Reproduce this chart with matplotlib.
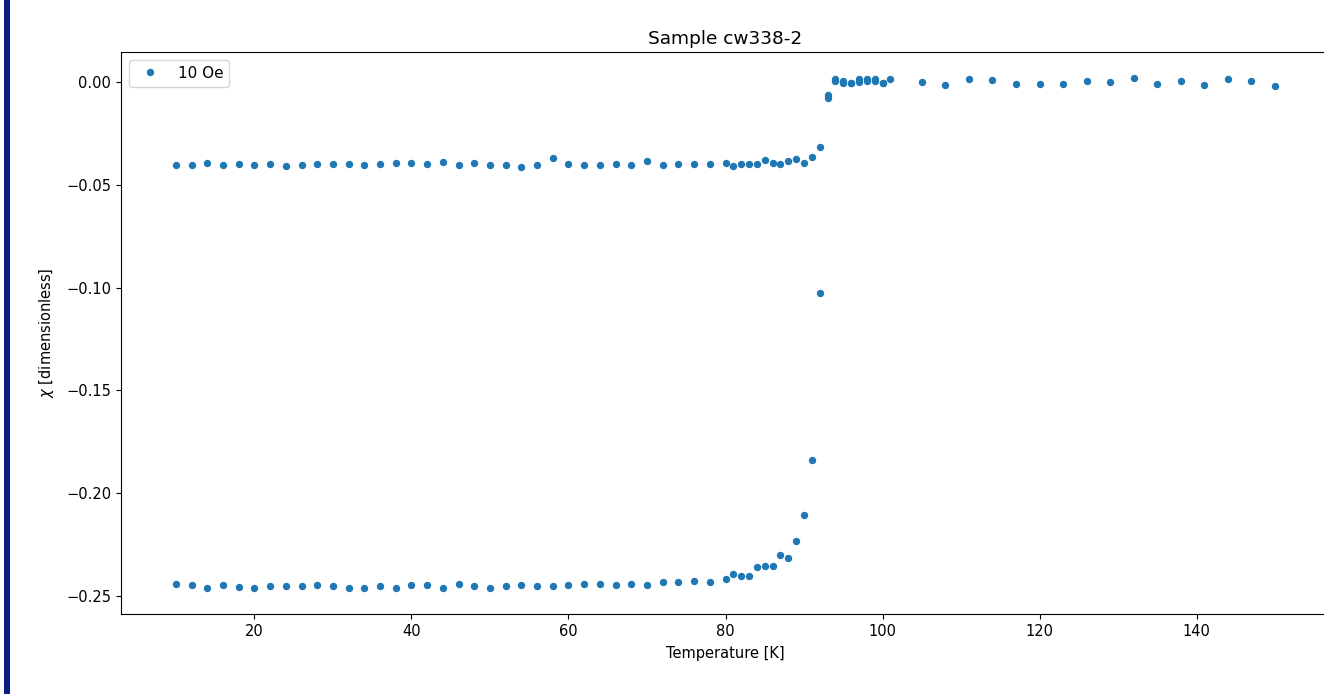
import matplotlib
matplotlib.use("Agg")
import matplotlib.pyplot as plt
from matplotlib.patches import Rectangle

# Field-cooled branch (upper)
T_fc = [10, 12, 14, 16, 18, 20, 22, 24, 26, 28, 30, 32, 34, 36, 38, 40, 42, 44,
        46, 48, 50, 52, 54, 56, 58, 60, 62, 64, 66, 68, 70, 72, 74, 76, 78, 80,
        81, 82, 83, 84, 85, 86, 87, 88, 89, 90, 91, 92, 93, 94, 95, 96, 97, 98,
        99, 100, 101, 105, 108, 111, 114, 117, 120, 123, 126, 129, 132, 135,
        138, 141, 144, 147, 150]
chi_fc = [-0.0404, -0.0404, -0.0394, -0.0404, -0.0399, -0.0404, -0.0399, -0.0409,
          -0.0404, -0.0399, -0.0399, -0.0399, -0.0404, -0.0399, -0.0394, -0.0394,
          -0.0399, -0.0389, -0.0404, -0.0394, -0.0404, -0.0404, -0.0414, -0.0404,
          -0.0370, -0.0399, -0.0404, -0.0404, -0.0398, -0.0404, -0.0386, -0.0404,
          -0.0398, -0.0398, -0.0398, -0.0393, -0.0410, -0.0399, -0.0398, -0.0398,
          -0.0381, -0.0393, -0.0398, -0.0386, -0.0373, -0.0393, -0.0364, -0.0315,
          -0.0063, 0.0013, 0.0006, -0.0006, 0.0015, 0.0015, 0.0015, -0.0006,
          0.0015, -0.0002, -0.0013, 0.0015, 0.0010, -0.0008, -0.0008, -0.0008,
          0.0003, -0.0002, 0.0021, -0.0008, 0.0003, -0.0013, 0.0015, 0.0003,
          -0.0018]

# Zero-field-cooled branch (lower)
T_zfc = [10, 12, 14, 16, 18, 20, 22, 24, 26, 28, 30, 32, 34, 36, 38, 40, 42, 44,
         46, 48, 50, 52, 54, 56, 58, 60, 62, 64, 66, 68, 70, 72, 74, 76, 78, 80,
         81, 82, 83, 84, 85, 86, 87, 88, 89, 90, 91, 92, 93, 94, 95, 96, 97, 98,
         99, 100]
chi_zfc = [-0.2441, -0.2447, -0.2463, -0.2445, -0.2457, -0.2463, -0.2452, -0.2452,
           -0.2452, -0.2445, -0.2452, -0.2459, -0.2463, -0.2452, -0.2459, -0.2445,
           -0.2445, -0.2459, -0.2441, -0.2452, -0.2459, -0.2452, -0.2445, -0.2452,
           -0.2452, -0.2445, -0.2441, -0.2441, -0.2445, -0.2441, -0.2445, -0.2434,
           -0.2434, -0.2429, -0.2434, -0.2418, -0.2395, -0.2402, -0.2402, -0.2361,
           -0.2352, -0.2356, -0.2301, -0.2317, -0.2233, -0.2107, -0.1839, -0.1027,
           -0.0079, 0.0006, -0.0006, -0.0006, -0.0002, 0.0002, 0.0002, -0.0006]

series_label = "10 Oe"
title = "Sample cw338-2"
xlabel = "Temperature [K]"
ylabel = r"$\chi$ [dimensionless]"

W, H = 1324, 694
fig = plt.figure(figsize=(W / 100, H / 100), dpi=100)
ax = fig.add_axes([121 / W, (H - 614) / H, (1330 - 121) / W, (614 - 52) / H])

T_all = T_zfc + T_fc
chi_all = chi_zfc + chi_fc
ax.plot(T_all, chi_all, linestyle="none", marker="o", markersize=4.3,
        color="#1f77b4", label=series_label)

ax.set_title(title, fontsize=13.3)
ax.set_xlabel(xlabel, fontsize=10.5, labelpad=5.5)
ax.set_ylabel(ylabel, fontsize=10.5, labelpad=7.5)
ax.tick_params(labelsize=10.5)
ax.legend(loc="upper left", fontsize=11)

fig.patches.append(Rectangle((4 / W, 0), 5.5 / W, 1, transform=fig.transFigure,
                             facecolor="#0b1f7d", edgecolor="none"))

fig.savefig("out.png", dpi=100)
